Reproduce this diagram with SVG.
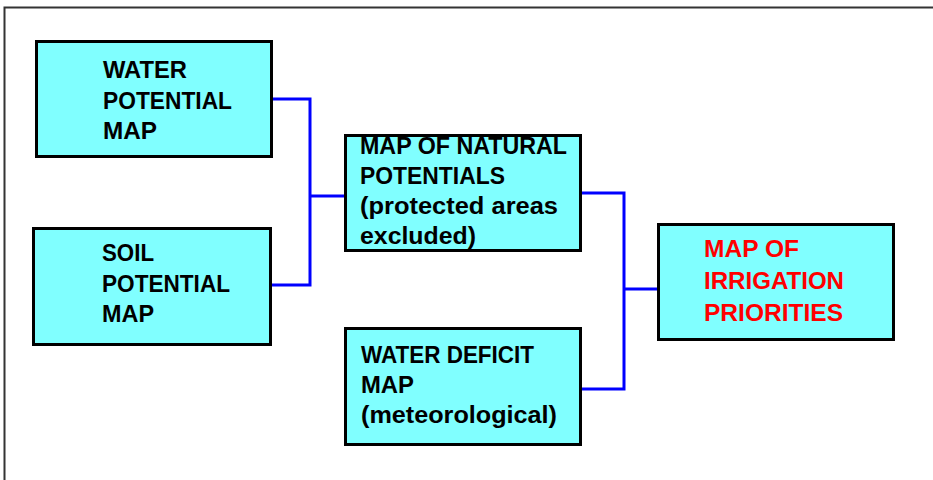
<svg xmlns="http://www.w3.org/2000/svg" width="933" height="480" viewBox="0 0 933 480">
<style>
.box{fill:#80ffff;stroke:none}
.bd{fill:none;stroke:#000;stroke-width:3}
.t{font-family:"Liberation Sans",Arial,sans-serif;font-weight:bold;font-size:23px;fill:#000}
.r{font-family:"Liberation Sans",Arial,sans-serif;font-weight:bold;font-size:24px;fill:#ff0000}
.c{fill:none;stroke:#0000ff;stroke-width:3}
</style>
<rect width="933" height="480" fill="#ffffff"/>
<path d="M4.5,480 V7.5 H933" fill="none" stroke="#333" stroke-width="2"/>
<g id="connectors">
<path class="c" d="M273,99 H310 V285 H272"/>
<path class="c" d="M310,196 H345"/>
<path class="c" d="M582,193 H624 V389 H582"/>
<path class="c" d="M624,289 H658"/>
</g>
<g id="water-potential">
<rect class="box" x="36.5" y="41.5" width="235" height="115"/>
<text class="t" x="103" y="78" textLength="84" lengthAdjust="spacingAndGlyphs">WATER</text>
<text class="t" x="103" y="109" textLength="129" lengthAdjust="spacingAndGlyphs">POTENTIAL</text>
<text class="t" x="103" y="139" textLength="54" lengthAdjust="spacingAndGlyphs">MAP</text>
<rect class="bd" x="36.5" y="41.5" width="235" height="115"/>
</g>
<g id="soil-potential">
<rect class="box" x="33.5" y="228.5" width="237" height="116"/>
<text class="t" x="102" y="261" textLength="52" lengthAdjust="spacingAndGlyphs">SOIL</text>
<text class="t" x="102" y="292" textLength="128" lengthAdjust="spacingAndGlyphs">POTENTIAL</text>
<text class="t" x="102" y="322" textLength="52" lengthAdjust="spacingAndGlyphs">MAP</text>
<rect class="bd" x="33.5" y="228.5" width="237" height="116"/>
</g>
<g id="natural-potentials">
<rect class="box" x="345.5" y="135.5" width="235" height="115"/>
<text class="t" x="360" y="154" textLength="207" lengthAdjust="spacingAndGlyphs">MAP OF NATURAL</text>
<text class="t" x="360" y="184" textLength="145" lengthAdjust="spacingAndGlyphs">POTENTIALS</text>
<text class="t" x="360" y="214" textLength="198" lengthAdjust="spacingAndGlyphs">(protected areas</text>
<text class="t" x="360" y="244" textLength="116" lengthAdjust="spacingAndGlyphs">excluded)</text>
<rect class="bd" x="345.5" y="135.5" width="235" height="115"/>
</g>
<g id="water-deficit">
<rect class="box" x="345.5" y="328.5" width="235" height="116"/>
<text class="t" x="361" y="363" textLength="173" lengthAdjust="spacingAndGlyphs">WATER DEFICIT</text>
<text class="t" x="361" y="393" textLength="53" lengthAdjust="spacingAndGlyphs">MAP</text>
<text class="t" x="361" y="423" textLength="196" lengthAdjust="spacingAndGlyphs">(meteorological)</text>
<rect class="bd" x="345.5" y="328.5" width="235" height="116"/>
</g>
<g id="irrigation-priorities">
<rect class="box" x="658.5" y="224.5" width="235" height="115"/>
<text class="r" x="704" y="257" textLength="95" lengthAdjust="spacingAndGlyphs">MAP OF</text>
<text class="r" x="704" y="289" textLength="140" lengthAdjust="spacingAndGlyphs">IRRIGATION</text>
<text class="r" x="704" y="321" textLength="139" lengthAdjust="spacingAndGlyphs">PRIORITIES</text>
<rect class="bd" x="658.5" y="224.5" width="235" height="115"/>
</g>
</svg>
